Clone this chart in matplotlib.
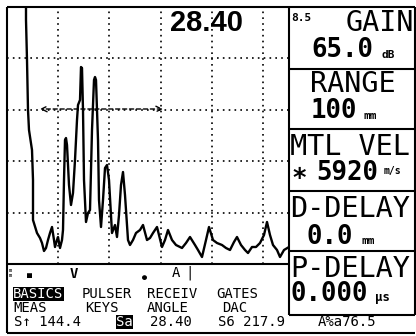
import numpy as np
import matplotlib.pyplot as plt

# A-scan trace: sample index and amplitude (counts, 257 = full screen height)
samples = [19, 19, 20, 21, 22, 25, 26, 26, 30, 33, 35, 37, 39, 41, 43, 45, 47, 48,
           50, 51, 53, 55, 56, 57, 58, 59, 60, 62, 64, 66, 68, 70, 71, 73, 74, 75,
           76, 77, 79, 81, 83, 85, 87, 88, 89, 91, 92, 94, 96, 98, 100, 102, 105,
           108, 110, 112, 114, 116, 118, 121, 123, 126, 129, 133, 136, 140, 143,
           146, 150, 155, 158, 161, 165, 169, 175, 179, 183, 188, 191, 195, 199,
           202, 206, 210, 215, 219, 223, 227, 230, 234, 238, 241, 245, 249, 253,
           257, 260, 263, 266, 270, 273, 277, 282]
amplitude = [262, 244, 204, 154, 134, 114, 84, 44, 31, 26, 21, 13, 16, 24, 31, 37, 24, 17,
             24, 27, 16, 24, 34, 84, 124, 126, 119, 79, 59, 71, 104, 144, 159, 164, 197, 196,
             154, 84, 42, 51, 54, 134, 184, 187, 184, 124, 64, 37, 64, 96, 99, 84, 31,
             39, 27, 49, 79, 92, 69, 24, 19, 24, 31, 34, 39, 24, 26,
             31, 37, 17, 24, 34, 24, 19, 16, 21, 27, 19, 14, 7, 24,
             37, 24, 21, 19, 16, 14, 22, 27, 19, 14, 11, 17, 17, 21,
             29, 42, 29, 19, 14, 7, 14, 17]

gate_start, gate_end, gate_level = 33, 156, 155
reading = "28.40"

fig = plt.figure(figsize=(4.16, 3.36), dpi=100)
bg = fig.add_axes([0, 0, 1, 1])
bg.set_xlim(0, 416)
bg.set_ylim(336, 0)
bg.axis('off')

# screen frames
k = dict(color='black', lw=1.5, solid_capstyle='butt')
bg.plot([7, 415], [7, 7], **k)
bg.plot([7, 7], [7, 333], **k)
bg.plot([7, 289], [264, 264], **k)
bg.plot([289, 289], [7, 315], **k)
bg.plot([415, 415], [7, 315], **k)
bg.plot([7, 415], [333, 333], **k)
for yy in [69, 129, 191, 251, 315]:
    bg.plot([289, 415], [yy, yy], **k)

# A-scan
ax = fig.add_axes([7 / 416, (336 - 264) / 336, 282 / 416, 257 / 336])
ax.set_xlim(0, 282)
ax.set_ylim(0, 257)
ax.patch.set_alpha(0)
for s in ax.spines.values():
    s.set_visible(False)
ax.set_xticks([])
ax.set_yticks([])
for gx in np.arange(1, 6) * 51.2:
    ax.axvline(gx, color='black', lw=1.2, ls=(0, (1, 2.5)))
for gy in np.arange(1, 5) * 51.4:
    ax.axhline(gy, color='black', lw=1.2, ls=(0, (1, 2.5)))
ax.plot(samples, amplitude, color='black', lw=1.7, clip_on=True)
ax.annotate('', xy=(gate_start, gate_level), xytext=(gate_end, gate_level),
            arrowprops=dict(arrowstyle='<->', color='black', lw=1.0, ls=(0, (3, 2)),
                            shrinkA=0, shrinkB=0))
ax.text(206 - 7, 257 - 16, reading, ha='center', va='center', fontsize=21,
        fontweight='bold', family='Liberation Sans')

# right panel
mono = 'DejaVu Sans Mono'
big = 20.5
val = 18.5
bg.text(291, 18, '8.5', fontsize=8, family=mono, fontweight='bold', va='center')
bg.text(414, 23, 'GAIN', fontsize=big, family=mono, ha='right', va='center')
bg.text(311, 50, '65.0', fontsize=val, family=mono, va='center', fontweight='bold')
bg.text(381, 55, 'dB', fontsize=8, family=mono, va='center', fontweight='bold')
bg.text(310, 84, 'RANGE', fontsize=big, family=mono, va='center')
bg.text(311, 111, '100', fontsize=val, family=mono, va='center', fontweight='bold')
bg.text(363, 116, 'mm', fontsize=8, family=mono, va='center', fontweight='bold')
bg.text(290, 147, 'MTL VEL', fontsize=big, family=mono, va='center')
bg.text(291, 174, '\u2217', fontsize=val, family=mono, va='center', fontweight='bold')
bg.text(316, 173, '5920', fontsize=val, family=mono, va='center', fontweight='bold')
bg.text(384, 171, 'm/s', fontsize=7, family=mono, va='center', fontweight='bold')
bg.text(290, 209, 'D-DELAY', fontsize=big, family=mono, va='center')
bg.text(307, 237, '0.0', fontsize=val, family=mono, va='center', fontweight='bold')
bg.text(361, 241, 'mm', fontsize=8, family=mono, va='center', fontweight='bold')
bg.text(290, 269, 'P-DELAY', fontsize=big, family=mono, va='center')
bg.text(291, 294, '0.000', fontsize=val, family=mono, va='center', fontweight='bold')
bg.text(375, 298, '\u03bcs', fontsize=9, family=mono, va='center', fontweight='bold')

# status area
bg.text(9, 273, 'm\nm', fontsize=4, family=mono, va='center', linespacing=0.8)
bg.text(29, 275, '\u25a0', fontsize=6, family=mono, va='center', ha='center')
bg.text(74, 274, 'V', fontsize=10, family=mono, va='center', ha='center', fontweight='bold')
bg.text(144, 278, '\u25cf', fontsize=6, family=mono, va='center', ha='center')
bg.text(176, 273, 'A', fontsize=10, family=mono, va='center', ha='center')
bg.text(190, 273, '|', fontsize=10, family=mono, va='center', ha='center')

sm = 10
bg.text(13, 294, 'BASICS', fontsize=sm, family=mono, va='center', color='white',
        bbox=dict(facecolor='black', edgecolor='none', pad=0.2))
bg.text(82, 294, 'PULSER', fontsize=sm, family=mono, va='center')
bg.text(147, 294, 'RECEIV', fontsize=sm, family=mono, va='center')
bg.text(216, 294, 'GATES', fontsize=sm, family=mono, va='center')
bg.text(13, 307.5, 'MEAS', fontsize=sm, family=mono, va='center')
bg.text(85, 307.5, 'KEYS', fontsize=sm, family=mono, va='center')
bg.text(147, 307.5, 'ANGLE', fontsize=sm, family=mono, va='center')
bg.text(222, 307.5, 'DAC', fontsize=sm, family=mono, va='center')
bg.text(14, 322, 'S\u2191 144.4', fontsize=sm, family=mono, va='center')
bg.text(116, 322, 'Sa', fontsize=sm, family=mono, va='center', color='white',
        bbox=dict(facecolor='black', edgecolor='none', pad=0.2))
bg.text(150, 322, '28.40', fontsize=sm, family=mono, va='center')
bg.text(218, 322, 'S6 217.9', fontsize=sm, family=mono, va='center')
bg.text(318, 322, 'A%a76.5', fontsize=sm, family=mono, va='center')

fig.savefig('out.png', dpi=100)
